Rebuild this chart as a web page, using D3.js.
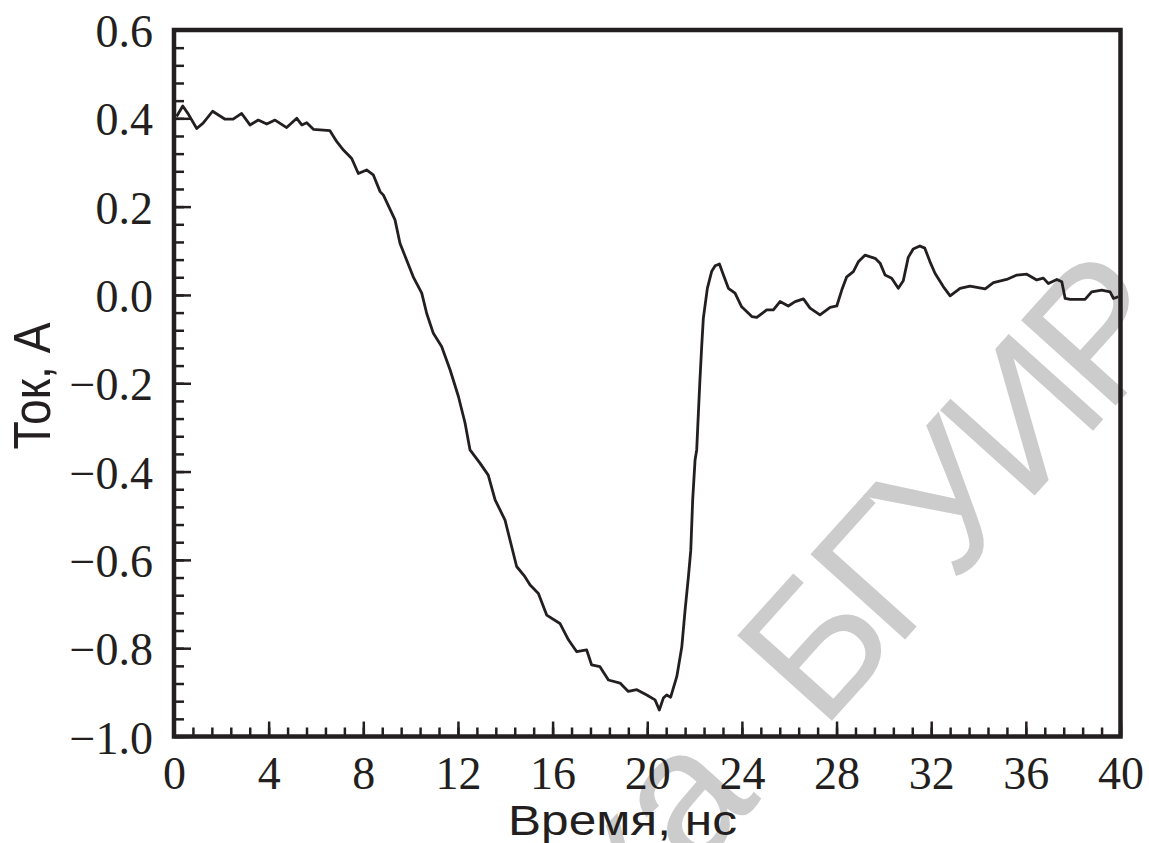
<!DOCTYPE html>
<html>
<head>
<meta charset="utf-8">
<script src="https://cdn.jsdelivr.net/npm/d3@7"></script>
<style>
  html, body { margin: 0; padding: 0; background: #fff; }
  svg { display: block; }
</style>
</head>
<body>
<svg id="chart" width="1149" height="843"></svg>
<script>
// ---- data ----
const time = [0.11,0.37,0.6,0.96,1.23,1.63,2.16,2.5,2.86,3.21,3.56,3.92,4.27,4.76,5.19,5.40,5.61,5.89,6.59,6.88,7.16,7.51,7.79,8.14,8.42,8.71,8.85,9.34,9.55,10.11,10.47,10.68,10.96,11.31,11.67,12.02,12.30,12.51,12.93,13.28,13.57,13.99,14.48,14.83,15.05,15.40,15.75,16.31,16.67,17.02,17.44,17.65,18.0,18.36,18.85,19.20,19.56,19.98,20.33,20.51,20.68,20.82,20.99,21.25,21.46,21.60,21.74,21.84,21.92,22.02,22.09,22.15,22.22,22.30,22.37,22.54,22.72,22.87,23.05,23.22,23.43,23.71,23.99,24.42,24.63,25.05,25.33,25.61,25.96,26.25,26.60,26.88,27.30,27.73,28.01,28.22,28.43,28.71,28.92,29.20,29.63,29.84,30.05,30.33,30.61,30.82,31.03,31.24,31.52,31.73,31.95,32.16,32.51,32.80,33.22,33.64,34.28,34.63,35.19,35.62,36.04,36.46,36.74,36.95,37.31,37.52,37.66,37.87,38.50,38.78,39.21,39.56,39.70,39.91];
const current = [0.404,0.428,0.41,0.377,0.389,0.416,0.398,0.398,0.411,0.385,0.396,0.387,0.396,0.379,0.40,0.385,0.39,0.375,0.372,0.347,0.328,0.309,0.275,0.283,0.272,0.234,0.226,0.17,0.117,0.041,0.004,-0.042,-0.087,-0.117,-0.17,-0.23,-0.29,-0.351,-0.381,-0.408,-0.464,-0.51,-0.615,-0.638,-0.657,-0.676,-0.725,-0.744,-0.781,-0.808,-0.804,-0.838,-0.842,-0.872,-0.879,-0.898,-0.894,-0.906,-0.917,-0.94,-0.913,-0.906,-0.911,-0.864,-0.797,-0.713,-0.638,-0.578,-0.464,-0.374,-0.351,-0.28,-0.2,-0.117,-0.053,0.015,0.053,0.066,0.070,0.045,0.015,0.004,-0.027,-0.049,-0.051,-0.034,-0.034,-0.015,-0.025,-0.015,-0.009,-0.03,-0.045,-0.028,-0.025,0.011,0.041,0.053,0.075,0.090,0.083,0.072,0.045,0.038,0.015,0.032,0.085,0.104,0.111,0.106,0.075,0.049,0.019,-0.002,0.015,0.020,0.014,0.028,0.035,0.045,0.047,0.034,0.038,0.026,0.035,0.030,-0.008,-0.010,-0.010,0.007,0.011,0.007,-0.008,-0.004];

const xTickValues = [0,4,8,12,16,20,24,28,32,36,40];
const xTickLabels = ["0","4","8","12","16","20","24","28","32","36","40"];
const yTickValues = [0.6,0.4,0.2,0.0,-0.2,-0.4,-0.6,-0.8,-1.0];
const yTickLabels = ["0.6","0.4","0.2","0.0","\u22120.2","\u22120.4","\u22120.6","\u22120.8","\u22121.0"];
const xTitle = "Время, нс";
const yTitle = "Ток, А";
const watermarkA = "Библиотека";
const watermarkB = "БГУИР";

(function () {
// ---- layout ----
const mLeft = 174, mRight = 1120.5, mTop = 30, mBottom = 736.5;
const ink = "#231f20";
const svg = d3.select("#chart");

const x = d3.scaleLinear().domain([0, 40]).range([mLeft, mRight]);
const y = d3.scaleLinear().domain([-1.0, 0.6]).range([mBottom, mTop]);

// watermark (beneath)
const wm = svg.append("text")
  .attr("transform", "translate(1180,334) rotate(-48)")
  .attr("text-anchor", "end")
  .attr("font-family", "'Liberation Sans', Arial, sans-serif")
  .attr("font-size", 185)
  .attr("fill", "#cccccc");
wm.append("tspan").text(watermarkA);
wm.append("tspan").attr("dx", 90).attr("letter-spacing", -12).text(watermarkB);

// minor ticks
const xMinor = d3.range(0, 40.001, 0.8);
const yMinor = d3.range(-1.0, 0.6001, 0.04);

const gxMinor = svg.append("g").attr("transform", `translate(0,${mBottom})`)
  .call(d3.axisBottom(x).tickValues(xMinor).tickSize(-9).tickFormat(""));
const gyMinor = svg.append("g").attr("transform", `translate(${mLeft},0)`)
  .call(d3.axisLeft(y).tickValues(yMinor).tickSize(-10).tickFormat(""));
[gxMinor, gyMinor].forEach(g => {
  g.select(".domain").remove();
  g.selectAll("line").attr("stroke", ink).attr("stroke-width", 2.5);
});

// major ticks with labels
const gx = svg.append("g").attr("transform", `translate(0,${mBottom})`)
  .call(d3.axisBottom(x).tickValues(xTickValues).tickSize(-15)
    .tickFormat((d, i) => xTickLabels[i]));
gx.select(".domain").remove();
gx.selectAll("line").attr("stroke", ink).attr("stroke-width", 2.5);
gx.selectAll("text")
  .attr("y", 52).attr("dy", null)
  .attr("font-family", "'Liberation Serif', 'Times New Roman', serif")
  .attr("font-size", 46).attr("fill", ink);

const gy = svg.append("g").attr("transform", `translate(${mLeft},0)`)
  .call(d3.axisLeft(y).tickValues(yTickValues).tickSize(-17)
    .tickFormat((d, i) => yTickLabels[i]));
gy.select(".domain").remove();
gy.selectAll("line").attr("stroke", ink).attr("stroke-width", 2.5);
gy.selectAll("text")
  .attr("x", -21).attr("dy", "0.36em")
  .attr("font-family", "'Liberation Serif', 'Times New Roman', serif")
  .attr("font-size", 46).attr("fill", ink);

// curve
const pts = time.map((t, i) => [t, current[i]]);
svg.append("path")
  .datum(pts)
  .attr("d", d3.line().x(d => x(d[0])).y(d => y(d[1])))
  .attr("fill", "none")
  .attr("stroke", ink)
  .attr("stroke-width", 2.8)
  .attr("stroke-linejoin", "round");

// frame
svg.append("rect")
  .attr("x", mLeft).attr("y", mTop)
  .attr("width", mRight - mLeft).attr("height", mBottom - mTop)
  .attr("fill", "none").attr("stroke", ink).attr("stroke-width", 4.5);

// axis titles
svg.append("text")
  .attr("x", 508).attr("y", 835)
  .attr("font-family", "'Liberation Sans', Arial, sans-serif")
  .attr("font-size", 42)
  .attr("textLength", 229).attr("lengthAdjust", "spacingAndGlyphs")
  .attr("fill", ink)
  .text(xTitle);

svg.append("text")
  .attr("transform", "translate(50,386) rotate(-90)")
  .attr("text-anchor", "middle")
  .attr("font-family", "'Liberation Sans', Arial, sans-serif")
  .attr("font-size", 51)
  .attr("textLength", 127).attr("lengthAdjust", "spacingAndGlyphs")
  .attr("fill", ink)
  .text(yTitle);
})();
</script>
</body>
</html>
